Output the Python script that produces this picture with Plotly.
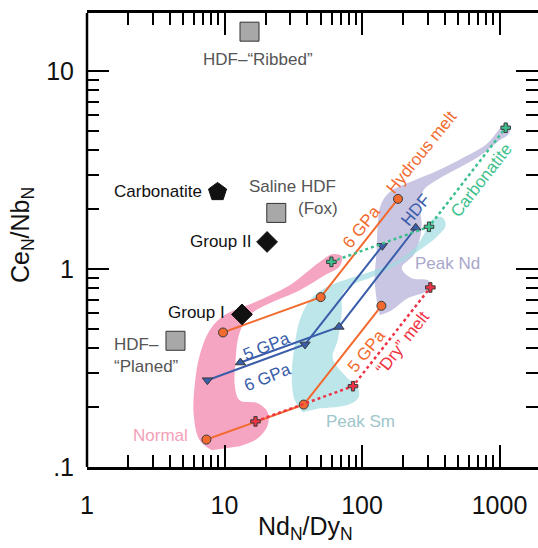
import plotly.graph_objects as go

# ---------------- data (Nd_N/Dy_N , Ce_N/Nb_N) ----------------
ribbed_x, ribbed_y = [15.2], [15.8]
planed_x, planed_y = [4.4], [0.434]
saline_x, saline_y = [23.8], [1.92]
carbpt_x, carbpt_y = [8.9], [2.45]
group2_x, group2_y = [20.4], [1.37]
group1_x, group1_y = [13.4], [0.59]

hyd6_x = [9.75, 50.1, 182.8]
hyd6_y = [0.478, 0.721, 2.26]
hyd5_x = [7.39, 37.7, 138.4]
hyd5_y = [0.1376, 0.2067, 0.652]
hdf5_x = [13.05, 68.0, 246.0]
hdf5_y = [0.337, 0.510, 1.616]
hdf6_x = [7.51, 38.5, 140.7]
hdf6_y = [0.2744, 0.416, 1.31]
carb_x = [59.9, 307.0, 1109.0]
carb_y = [1.087, 1.634, 5.17]
dry_x = [16.8, 86.0, 314.0]
dry_y = [0.170, 0.256, 0.807]

# field outlines
normal_x = [8.07, 6.60, 5.97, 6.07, 6.60, 7.81, 10.03, 16.58, 29.81, 49.25, 61.23, 71.19,
            68.84, 53.56, 35.24, 21.32, 15.78, 13.56, 12.47, 12.06, 11.87, 12.90, 17.44,
            20.62, 20.62, 17.44, 12.90]
normal_y = [0.1215, 0.1365, 0.1826, 0.259, 0.367, 0.491, 0.585, 0.680, 0.829, 1.084, 1.189, 1.162,
            1.034, 0.931, 0.782, 0.672, 0.598, 0.520, 0.437, 0.346, 0.259, 0.2174, 0.210,
            0.189, 0.1625, 0.1397, 0.1273]
peaksm_x = [37.05, 32.39, 30.81, 32.39, 35.24, 41.65, 53.56, 74.83, 113.8, 172.9, 241.7, 285.8,
            321.3, 379.8, 406.1, 349.4, 262.8, 188.0, 123.7, 84.15, 72.38, 71.19, 66.58, 61.23,
            77.37, 93.05, 94.6, 81.37, 49.25]
peaksm_y = [0.189, 0.2174, 0.291, 0.413, 0.551, 0.696, 0.800, 0.879, 0.9645, 1.084, 1.275, 1.519,
            1.767, 1.829, 1.667, 1.449, 1.246, 1.071, 0.921, 0.829, 0.7553, 0.598, 0.437, 0.3544,
            0.284, 0.2529, 0.2251, 0.2075, 0.198]
peaknd_x = [127.9, 123.7, 127.9, 130.1, 136.8, 159.0, 233.8, 349.4, 540.0, 807.0, 986.7, 1091.0,
            1206.0, 1166.0, 986.7, 717.8, 488.3, 349.4, 281.0, 262.8, 271.8, 258.5, 237.7, 194.4,
            229.9, 300.5, 321.3, 285.8, 215.0, 164.4, 134.5]
peaknd_y = [0.696, 0.879, 1.246, 1.667, 2.104, 2.448, 2.783, 3.126, 3.637, 4.28, 5.039, 5.401,
            5.277, 4.808, 4.433, 3.722, 3.199, 2.815, 2.505, 2.104, 1.667, 1.352, 1.176, 1.011,
            0.899, 0.879, 0.8194, 0.764, 0.7126, 0.6199, 0.585]

y_label_alias = {"0.1": ".1"}

# ---------------- styles ----------------
FONT = "Liberation Sans, Arial, Helvetica, sans-serif"
ORANGE = "#F26A2E"
BLUE = "#3A5DAA"
RED = "#EE3344"
GREEN = "#3DBF8E"
OUT = "#3a3a3a"

fig = go.Figure()

def field(x, y, color):
    fig.add_trace(go.Scatter(x=x, y=y, mode="lines", fill="toself", fillcolor=color,
                             line=dict(width=0, shape="spline", smoothing=1.0),
                             hoverinfo="skip", showlegend=False))

field(peaknd_x, peaknd_y, "rgba(190,188,222,0.85)")
field(peaksm_x, peaksm_y, "rgba(160,220,225,0.70)")
field(normal_x, normal_y, "rgba(244,160,190,0.95)")

def series(x, y, color, symbol, size, dash="solid", width=2, mfill=None):
    fig.add_trace(go.Scatter(x=x, y=y, mode="lines+markers",
                             line=dict(color=color, width=width, dash=dash),
                             marker=dict(symbol=symbol, size=size, color=mfill or color,
                                         line=dict(color=OUT, width=1)),
                             hoverinfo="skip", showlegend=False))

series(hyd5_x, hyd5_y, ORANGE, "circle", 9)
series(hyd6_x, hyd6_y, ORANGE, "circle", 9)
series(hdf6_x, hdf6_y, BLUE, "triangle-down", 9)
series(hdf5_x, hdf5_y, BLUE, "triangle-up", 9)
series(dry_x, dry_y, RED, "cross", 8, dash="dot", width=2.5)
series(carb_x, carb_y, GREEN, "cross", 8, dash="dot", width=2.5)

def point(x, y, symbol, size, color, lc):
    fig.add_trace(go.Scatter(x=x, y=y, mode="markers",
                             marker=dict(symbol=symbol, size=size, color=color,
                                         line=dict(color=lc, width=1)),
                             hoverinfo="skip", showlegend=False))

for px_, py_ in [(ribbed_x, ribbed_y), (planed_x, planed_y), (saline_x, saline_y)]:
    point(px_, py_, "square", 19, "#A8A8A8", "#333333")
point(carbpt_x, carbpt_y, "pentagon", 19, "#111111", "#111111")
point(group2_x, group2_y, "diamond", 16, "#111111", "#111111")
point(group1_x, group1_y, "diamond", 16, "#111111", "#111111")

# ---------------- labels (paper coords) ----------------
W, H, L, T, B = 538, 548, 87, 13, 81
PW, PH = W - L, H - T - B

def ann(text, px, py, color="#111111", size=17, angle=0, xanchor="center", align="center"):
    fig.add_annotation(text=text, x=(px - L) / PW, y=(H - B - py) / PH, xref="paper", yref="paper",
                       showarrow=False, textangle=angle, xanchor=xanchor, yanchor="middle",
                       align=align, font=dict(family=FONT, size=size, color=color))

GRAY = "#555555"
ann("HDF–“Ribbed”", 258, 59, GRAY)
ann("Carbonatite", 157.5, 191.7)
ann("Saline HDF", 292, 186.7, GRAY)
ann("(Fox)", 317.5, 208, GRAY)
ann("Group II", 220, 241.7)
ann("Group I", 196, 312.7)
ann("HDF–<br>“Planed”", 112, 355.5, GRAY, xanchor="left", align="left")
ann("Normal", 160.5, 435, "#F4A0B8")
ann("Peak Sm", 360.5, 421.7, "#9DC6CB")
ann("Peak Nd", 447.5, 263.3, "#A9A7CB")
ann("6 GPa", 361, 227, ORANGE, angle=-51)
ann("Hydrous melt", 421.7, 153, ORANGE, angle=-51)
ann("HDF", 415, 210, BLUE, angle=-50)
ann("Carbonatite", 481, 180, GREEN, angle=-52)
ann("5 GPa", 266, 346, BLUE, angle=-22)
ann("6 GPa", 267, 377, BLUE, angle=-22)
ann("5 GPa", 366, 351, ORANGE, angle=-51)
ann("“Dry” melt", 402, 343, RED, angle=-52)

# axis titles
ann("Ce<sub>N</sub>/Nb<sub>N</sub>", 22, 235, "#111111", size=25, angle=-90)
ann("Nd<sub>N</sub>/Dy<sub>N</sub>", 305, 528, "#111111", size=25)

axis_common = dict(type="log", tickmode="linear", tick0=0, dtick=1,
                   ticks="inside", ticklen=22, tickwidth=2, tickcolor="black",
                   linecolor="black",
                   mirror="ticks", showgrid=False, zeroline=False, exponentformat="none",
                   minor=dict(ticks="inside", ticklen=12, tickwidth=2, tickcolor="black",
                              dtick="D1", showgrid=False),
                   tickfont=dict(family=FONT, size=25, color="#111111"))

fig.update_xaxes(range=[0, (W - L) / 137.5], ticklabelstandoff=14, showline=True, linewidth=2.5,
                 **axis_common)
# y axis: ticks on both sides, frame line only on the left (right edge lies outside the crop)
fig.update_yaxes(range=[-1, 1.293], ticklabelstandoff=12, labelalias=y_label_alias, showline=False,
                 **axis_common)
fig.add_shape(type="line", xref="paper", yref="paper", x0=0, x1=0, y0=0, y1=1,
              line=dict(color="black", width=2.5))

fig.update_layout(width=W, height=H, margin=dict(l=L, r=0, t=T, b=B, pad=0),
                  plot_bgcolor="white", paper_bgcolor="white", showlegend=False,
                  font=dict(family=FONT))

fig.write_html("out.html")
